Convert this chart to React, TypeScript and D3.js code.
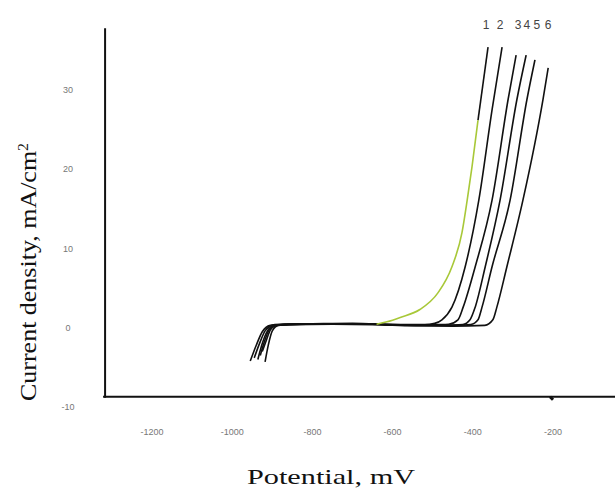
import React from "react";
import * as d3 from "d3";

const xTicks = [-1200, -1000, -800, -600, -400, -200];
const yTicks = [-10, 0, 10, 20, 30];

const curve1: [number, number][] = [[-955,-4.2],[-940,-2.2],[-925,-0.5],[-905,0.3],[-880,0.45],[-800,0.5],[-700,0.55],[-640,0.45],[-614,0.75],[-581,1.3],[-532,2.3],[-487,4.4],[-452,7.7],[-427,12.0],[-414,16.1],[-402,20.3],[-387,26.2],[-362,35.4]];
const curve2: [number, number][] = [[-945,-3.8],[-932,-2],[-918,-0.4],[-900,0.3],[-870,0.45],[-780,0.5],[-680,0.5],[-580,0.4],[-520,0.4],[-495,0.55],[-477,1.0],[-452,2.6],[-419,7.7],[-385,16.1],[-352,27.5],[-327,35.4]];
const curve3: [number, number][] = [[-936,-4.0],[-925,-2],[-912,-0.4],[-895,0.3],[-865,0.4],[-760,0.5],[-660,0.5],[-560,0.35],[-480,0.4],[-460,0.45],[-437,1.0],[-424,2.6],[-394,7.7],[-352,16.1],[-312,28.8],[-292,34.4]];
const curve4: [number, number][] = [[-930,-3.5],[-920,-1.8],[-908,-0.3],[-890,0.3],[-860,0.45],[-750,0.5],[-650,0.45],[-550,0.3],[-450,0.35],[-425,0.4],[-407,1.0],[-394,2.6],[-369,7.7],[-332,16.1],[-290,28.8],[-267,34.4]];
const curve5: [number, number][] = [[-918,-4.3],[-910,-2.2],[-900,-0.4],[-885,0.3],[-855,0.4],[-740,0.5],[-640,0.45],[-540,0.3],[-440,0.3],[-405,0.4],[-387,1.0],[-377,2.6],[-352,7.7],[-307,16.1],[-265,28.8],[-245,33.8]];
const curve6: [number, number][] = [[-925,-3.0],[-915,-1.6],[-905,-0.3],[-890,0.3],[-860,0.4],[-750,0.45],[-650,0.4],[-550,0.25],[-450,0.2],[-370,0.3],[-350,1.0],[-340,2.6],[-315,7.7],[-275,16.1],[-225,28.8],[-212,32.8]];

const blackCurves = [curve2, curve3, curve4, curve5, curve6];
const greenFrom = -640;
const greenUntil = 26.2;

const curveLabels = ["1", "2", "3", "4", "5", "6"];
const curveLabelX = [-367, -332, -287, -265, -240, -212];
const curveLabelY = 38.2;

const xAxisBase = -1317;
const xAxisEnd = -45;
const yAxisBase = -8.7;
const yAxisTop = 37.8;

export default function App() {
  const x = d3.scaleLinear().domain([-1200, -200]).range([152, 553]);
  const y = d3.scaleLinear().domain([-10, 30]).range([407, 90]);
  const line = d3
    .line<[number, number]>()
    .x((d) => x(d[0]))
    .y((d) => y(d[1]))
    .curve(d3.curveMonotoneX);

  const blackStart = curve1.filter((d) => d[0] <= greenFrom);
  const greenPart = curve1.filter((d) => d[0] >= greenFrom && d[1] <= greenUntil);
  const blackTop = curve1.filter((d) => d[1] >= greenUntil);

  const x0 = x(xAxisBase);
  const yb = y(yAxisBase);

  return (
    <svg
      width={615}
      height={490}
      style={{ position: "fixed", left: 0, top: 0, background: "#fff" }}
    >
      <rect width={615} height={490} fill="#fff" />
      {/* curves */}
      {blackCurves.map((c, i) => (
        <path key={i} d={line(c) || ""} fill="none" stroke="#111" strokeWidth={1.6} />
      ))}
      <path d={line(blackStart) || ""} fill="none" stroke="#111" strokeWidth={1.6} />
      <path d={line(greenPart) || ""} fill="none" stroke="#a8c838" strokeWidth={1.6} />
      <path d={line(blackTop) || ""} fill="none" stroke="#111" strokeWidth={1.6} />

      {/* axes */}
      <line x1={x0} x2={x0} y1={y(yAxisTop)} y2={yb + 1} stroke="#111" strokeWidth={2} />
      <line x1={x0 - 2} x2={x(xAxisEnd)} y1={yb} y2={yb} stroke="#111" strokeWidth={2} />
      <line x1={x(-200) - 3} x2={x(-200)} y1={yb} y2={yb + 3} stroke="#111" strokeWidth={3} />

      {/* x tick labels */}
      {xTicks.map((t) => (
        <text
          key={t}
          x={x(t)}
          y={435}
          textAnchor="middle"
          fontFamily="Liberation Sans, Arial, sans-serif"
          fontSize={9}
          fill="#777"
        >
          {t}
        </text>
      ))}
      {/* y tick labels */}
      {yTicks.map((t) => (
        <text
          key={t}
          x={68}
          y={y(t)}
          dy="0.35em"
          textAnchor="middle"
          fontFamily="Liberation Sans, Arial, sans-serif"
          fontSize={9}
          fill="#777"
        >
          {t}
        </text>
      ))}

      {/* curve labels */}
      {curveLabels.map((l, i) => (
        <text
          key={l}
          x={x(curveLabelX[i])}
          y={y(curveLabelY)}
          dy="0.35em"
          textAnchor="middle"
          fontFamily="Liberation Sans, Arial, sans-serif"
          fontSize={12}
          fill="#444"
        >
          {l}
        </text>
      ))}

      {/* axis titles */}
      <text
        x={331}
        y={484}
        textAnchor="middle"
        fontFamily="Liberation Serif, Times New Roman, serif"
        fontSize={22}
        fill="#111"
        textLength={168}
        lengthAdjust="spacingAndGlyphs"
      >
        Potential, mV
      </text>
      <text
        transform="translate(36,272) rotate(-90)"
        textAnchor="middle"
        fontFamily="Liberation Serif, Times New Roman, serif"
        fontSize={23}
        fill="#111"
        textLength={258}
        lengthAdjust="spacingAndGlyphs"
      >
        Current density, mA/cm
        <tspan fontSize={14} dy={-8}>2</tspan>
      </text>
    </svg>
  );
}
